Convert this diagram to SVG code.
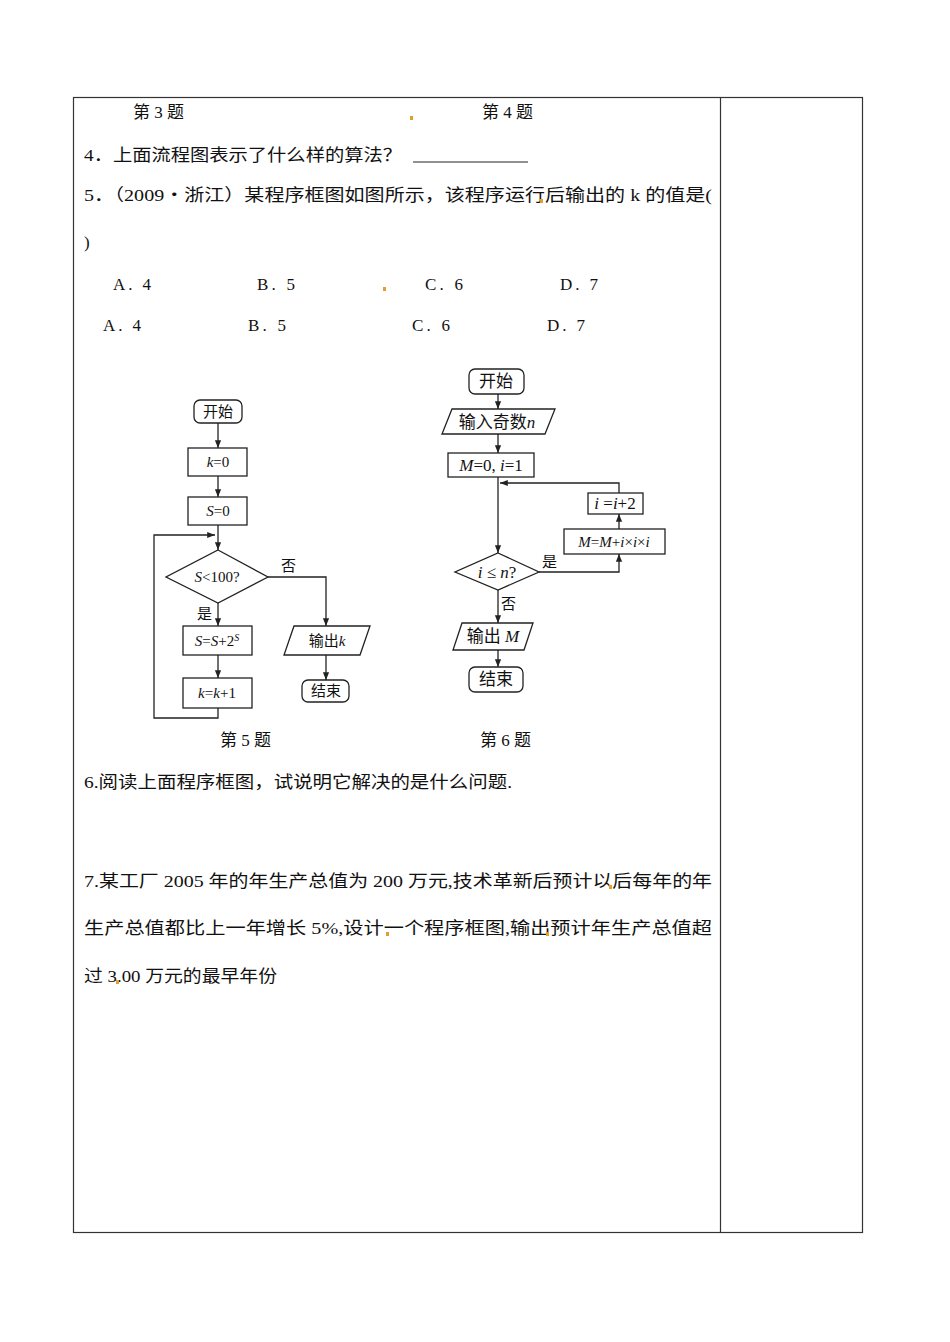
<svg xmlns="http://www.w3.org/2000/svg" width="950" height="1342" viewBox="0 0 950 1342">
<style>
.t{font-family:"Liberation Serif","Noto Sans CJK SC",serif;font-size:17px;fill:#111}
.f{font-family:"Liberation Serif","Noto Sans CJK SC",serif;font-size:15px;fill:#111}
.fi{font-style:italic}
.s{fill:#fff;stroke:#222;stroke-width:1.3}
.c{fill:none;stroke:#222;stroke-width:1.3}
.dot{fill:#e0a030}
</style>
<defs><marker id="a" viewBox="0 0 10 10" refX="10" refY="5" markerWidth="6" markerHeight="8" orient="auto"><path d="M0,1 L10,5 L0,9z" fill="#222"/></marker></defs>
<rect width="950" height="1342" fill="#fff"/>
<g id="table" fill="none" stroke="#333" stroke-width="1.2">
<rect x="73.5" y="97.5" width="789" height="1135"/>
<line x1="720.5" y1="97" x2="720.5" y2="1232"/>
</g>
<g id="text">
<text class="t" x="133" y="118">第 3 题</text>
<text class="t" x="482" y="118">第 4 题</text>
<rect class="dot" x="410" y="116" width="3" height="4"/>
<text class="t" x="84" y="161" textLength="318" lengthAdjust="spacingAndGlyphs">4．上面流程图表示了什么样的算法？</text>
<line x1="413" y1="162" x2="528" y2="162" stroke="#222" stroke-width="1"/>
<text class="t" x="84" y="201" textLength="628" lengthAdjust="spacingAndGlyphs">5．（2009・浙江）某程序框图如图所示，该程序运行后输出的 k 的值是(</text>
<rect class="dot" x="540" y="199" width="3" height="4"/>
<text class="t" x="84" y="248">)</text>
<text class="t" x="113" y="290" textLength="38">A.  4</text>
<text class="t" x="257" y="290" textLength="38">B.  5</text>
<rect class="dot" x="383" y="287" width="3" height="4"/>
<text class="t" x="425" y="290" textLength="38">C.  6</text>
<text class="t" x="560" y="290" textLength="38">D.  7</text>
<text class="t" x="103" y="331" textLength="38">A.  4</text>
<text class="t" x="248" y="331" textLength="38">B.  5</text>
<text class="t" x="412" y="331" textLength="38">C.  6</text>
<text class="t" x="547" y="331" textLength="38">D.  7</text>
<text class="t" x="220" y="746">第 5 题</text>
<text class="t" x="480" y="746">第 6 题</text>
<text class="t" x="84" y="788" textLength="428" lengthAdjust="spacingAndGlyphs">6.阅读上面程序框图，试说明它解决的是什么问题.</text>
<text class="t" x="84" y="887" textLength="628" lengthAdjust="spacingAndGlyphs">7.某工厂 2005 年的年生产总值为 200 万元,技术革新后预计以后每年的年</text>
<rect class="dot" x="609" y="885" width="3" height="4"/>
<text class="t" x="84" y="934" textLength="628" lengthAdjust="spacingAndGlyphs">生产总值都比上一年增长 5%,设计一个程序框图,输出预计年生产总值超</text>
<rect class="dot" x="386" y="932" width="3" height="4"/>
<rect class="dot" x="546" y="932" width="3" height="4"/>
<text class="t" x="84" y="982" textLength="193" lengthAdjust="spacingAndGlyphs">过 3.00 万元的最早年份</text>
<rect class="dot" x="116" y="980" width="3" height="4"/>
</g>
<g id="connectors">
<line class="c" x1="218" y1="423" x2="218" y2="448" marker-end="url(#a)"/>
<line class="c" x1="218" y1="476" x2="218" y2="497" marker-end="url(#a)"/>
<line class="c" x1="218" y1="525" x2="218" y2="550" marker-end="url(#a)"/>
<polyline class="c" points="218,708 218,718 154,718 154,535 215,535" marker-end="url(#a)"/>
<line class="c" x1="218" y1="603" x2="218" y2="626" marker-end="url(#a)"/>
<line class="c" x1="218" y1="655" x2="218" y2="678" marker-end="url(#a)"/>
<polyline class="c" points="268,577 326,577 326,626" marker-end="url(#a)"/>
<line class="c" x1="326" y1="655" x2="326" y2="680" marker-end="url(#a)"/>
<line class="c" x1="498" y1="394" x2="498" y2="409" marker-end="url(#a)"/>
<line class="c" x1="498" y1="434" x2="498" y2="453" marker-end="url(#a)"/>
<line class="c" x1="498" y1="477" x2="498" y2="553" marker-end="url(#a)"/>
<polyline class="c" points="539,572 619,572 619,554" marker-end="url(#a)"/>
<line class="c" x1="619" y1="529" x2="619" y2="514" marker-end="url(#a)"/>
<polyline class="c" points="619,493 619,483 500,483" marker-end="url(#a)"/>
<line class="c" x1="498" y1="590" x2="498" y2="623" marker-end="url(#a)"/>
<line class="c" x1="498" y1="650" x2="498" y2="667" marker-end="url(#a)"/>
</g>
<g id="n5-start"><rect class="s" x="194" y="400" width="48" height="23" rx="6"/><text class="f" x="218" y="417" text-anchor="middle">开始</text></g>
<g id="n5-k0"><rect class="s" x="188" y="448" width="59" height="28"/><text class="f" x="218" y="467" text-anchor="middle"><tspan class="fi">k</tspan>=0</text></g>
<g id="n5-s0"><rect class="s" x="188" y="497" width="59" height="28"/><text class="f" x="218" y="516" text-anchor="middle"><tspan class="fi">S</tspan>=0</text></g>
<g id="n5-dec"><polygon class="s" points="218,550 268,577 218,603 166,577"/><text class="f" x="217" y="582" text-anchor="middle"><tspan class="fi">S</tspan>&lt;100?</text></g>
<text class="f" x="281" y="571">否</text>
<text class="f" x="197" y="619">是</text>
<g id="n5-ss"><rect class="s" x="183" y="626" width="69" height="29"/><text class="f" x="217" y="646" text-anchor="middle"><tspan class="fi">S</tspan>=<tspan class="fi">S</tspan>+2<tspan class="fi" font-size="10" dy="-5">S</tspan></text></g>
<g id="n5-kk"><rect class="s" x="183" y="678" width="69" height="30"/><text class="f" x="217" y="698" text-anchor="middle"><tspan class="fi">k</tspan>=<tspan class="fi">k</tspan>+1</text></g>
<g id="n5-out"><polygon class="s" points="294,626 370,626 360,655 284,655"/><text class="f" x="327" y="646" text-anchor="middle">输出<tspan class="fi">k</tspan></text></g>
<g id="n5-end"><rect class="s" x="302" y="680" width="47" height="22" rx="6"/><text class="f" x="326" y="696" text-anchor="middle">结束</text></g>
<g id="n6-start"><rect class="s" x="469" y="369" width="55" height="25" rx="6"/><text class="t" x="496" y="387" text-anchor="middle">开始</text></g>
<g id="n6-in"><polygon class="s" points="452,409 555,409 545,434 442,434"/><text class="t" x="497" y="428" text-anchor="middle">输入奇数<tspan class="fi">n</tspan></text></g>
<g id="n6-init"><rect class="s" x="448" y="453" width="86" height="24"/><text class="t" x="491" y="471" text-anchor="middle"><tspan class="fi">M</tspan>=0, <tspan class="fi">i</tspan>=1</text></g>
<g id="n6-inc"><rect class="s" x="588" y="493" width="55" height="21"/><text class="t" x="615" y="509" text-anchor="middle"><tspan class="fi">i</tspan> =<tspan class="fi">i</tspan>+2</text></g>
<g id="n6-m"><rect class="s" x="564" y="529" width="101" height="25"/><text class="f" x="614" y="547" text-anchor="middle"><tspan class="fi">M</tspan>=<tspan class="fi">M</tspan>+<tspan class="fi">i</tspan>×<tspan class="fi">i</tspan>×<tspan class="fi">i</tspan></text></g>
<g id="n6-dec"><polygon class="s" points="498,553 539,572 498,590 455,572"/><text class="t" x="497" y="578" text-anchor="middle"><tspan class="fi">i</tspan> ≤ <tspan class="fi">n</tspan>?</text></g>
<text class="f" x="542" y="567">是</text>
<text class="f" x="501" y="609">否</text>
<g id="n6-out"><polygon class="s" points="462,623 533,623 524,650 453,650"/><text class="t" x="493" y="642" text-anchor="middle">输出 <tspan class="fi">M</tspan></text></g>
<g id="n6-end"><rect class="s" x="469" y="667" width="54" height="25" rx="6"/><text class="t" x="496" y="685" text-anchor="middle">结束</text></g>
</svg>
